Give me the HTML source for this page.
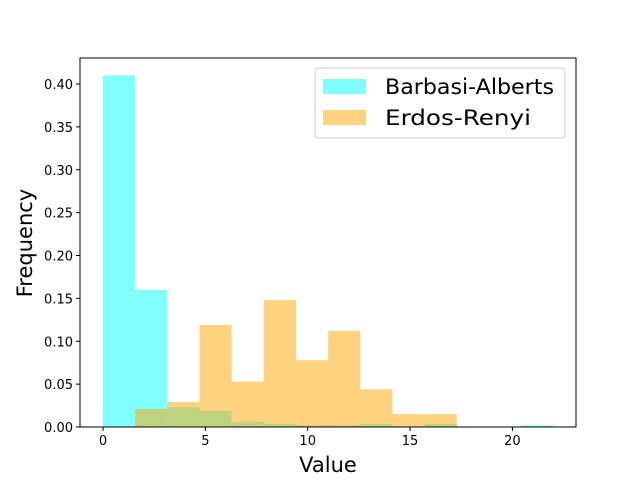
<!DOCTYPE html>
<html><head><meta charset="utf-8"><style>body{margin:0;background:#fff}svg{display:block;font-family:"DejaVu Sans","Liberation Sans",sans-serif}</style></head>
<body>
<svg id="c" width="640" height="480"></svg>
<script>
const baValues=[0.41,0.16,0.023,0.019,0.006,0.0035,0.002,0.002,0.0035,0,0.0035,0,0,0.002];
const erValues=[0.021,0.029,0.119,0.053,0.148,0.078,0.112,0.044,0.015,0.015];
const baStart=0, binWidth=22/14, erStart=22/14;
const xTicks=[0,5,10,15,20];
const yTicks=[0,0.05,0.10,0.15,0.20,0.25,0.30,0.35,0.40];
const X0=80,X1=576,Y0=58,Y1=427;
const xs=v=>103+v*20.47, ys=v=>427-v*857.5;
const svg=document.getElementById('c');
const NS='http://www.w3.org/2000/svg';
function mk(t,a,p){const e=document.createElementNS(NS,t);for(const k in a)e.setAttribute(k,a[k]);(p||svg).appendChild(e);return e;}
const gBA=mk('g',{});


baValues.forEach((v,i)=>{const a=xs(baStart+i*binWidth),b=xs(baStart+(i+1)*binWidth);
const r=mk('rect',{x:a,y:ys(v),width:b-a,height:ys(0)-ys(v),fill:'#00ffff','fill-opacity':0.5},gBA);

});
const gER=mk('g',{});


erValues.forEach((v,i)=>{const a=xs(erStart+i*binWidth),b=xs(erStart+(i+1)*binWidth);
const r=mk('rect',{x:a,y:ys(v),width:b-a,height:ys(0)-ys(v),fill:'#ffa500','fill-opacity':0.5},gER);

});
const fr=mk('rect',{x:X0,y:Y0,width:X1-X0,height:Y1-Y0,fill:'none',stroke:'#000','stroke-width':1});


xTicks.forEach(t=>{mk('line',{x1:xs(t),x2:xs(t),y1:Y1,y2:Y1+4,stroke:'#000'});
const tx=mk('text',{x:xs(t),y:Y1+18,'font-size':13,'text-anchor':'middle'});tx.textContent=t;

});
yTicks.forEach(t=>{mk('line',{x1:X0-4,x2:X0,y1:ys(t),y2:ys(t),stroke:'#000'});
const tx=mk('text',{x:X0-7,y:ys(t)+5,'font-size':13,'text-anchor':'end'});tx.textContent=t.toFixed(2);

});
const xt=mk('text',{x:328,y:472,'font-size':21,'text-anchor':'middle'});xt.textContent='Value';


const yt=mk('text',{x:32,y:243,'font-size':21,'text-anchor':'middle',transform:'rotate(-90 32 243)'});yt.textContent='Frequency';


const lg=mk('g',{});


mk('rect',{x:315,y:68,width:250,height:70,rx:3,fill:'#fff','fill-opacity':0.8,stroke:'#ccc'},lg);
[['Barbasi-Alberts','#00ffff',79,169],['Erdos-Renyi','#ffa500',110,146]].forEach(([n,c,y,w])=>{
const e=mk('g',{},lg);


mk('rect',{x:323,y:y,width:43,height:15,fill:c,'fill-opacity':0.5},e);
const t=mk('text',{x:385,y:y+15,'font-size':21,textLength:w,lengthAdjust:'spacingAndGlyphs'},e);t.textContent=n;});
</script>
</body></html>
